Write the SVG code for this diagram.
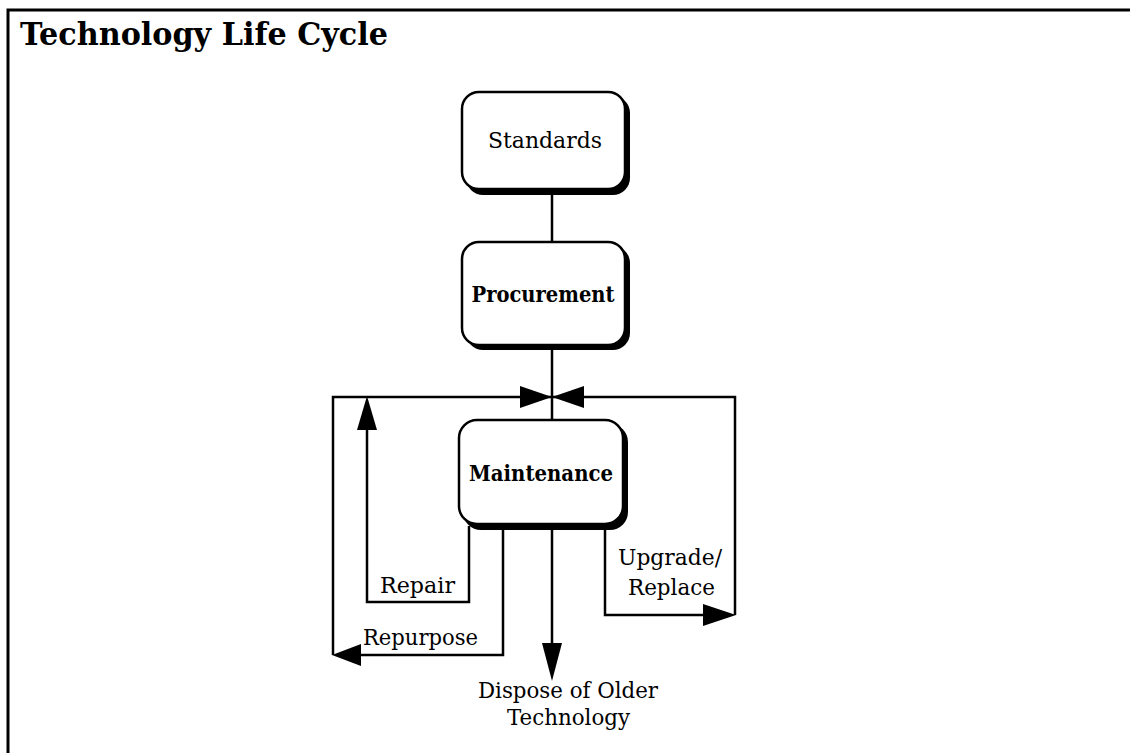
<svg xmlns="http://www.w3.org/2000/svg" width="1130" height="753" viewBox="0 0 1130 753">
<style>
.frame{stroke:#000;stroke-width:3;fill:none}
.box{fill:#fff;stroke:#000;stroke-width:2.5}
.shadow{fill:#000}
.line{stroke:#000;stroke-width:2.5;fill:none}
.head{fill:#000}
.title{font-family:"DejaVu Serif","Liberation Serif",serif;font-weight:bold;font-size:31px;fill:#000}
.lbl{font-family:"DejaVu Serif","Liberation Serif",serif;font-size:23px;fill:#000}
.bold{font-weight:bold}
</style>
<rect width="1130" height="753" fill="#fff"/>
<path class="frame" d="M8,753 V10 H1130"/>
<text class="title" x="20" y="45" textLength="368" lengthAdjust="spacingAndGlyphs">Technology Life Cycle</text>

<g id="connectors">
  <line class="line" x1="552" y1="193" x2="552" y2="242"/>
  <line class="line" x1="552" y1="347" x2="552" y2="420"/>
  <!-- loop frame -->
  <path class="line" d="M333,655 V397 H735 V615"/>
  <!-- Repair -->
  <path class="line" d="M469,526 V602 H367 V420"/>
  <polygon class="head" points="367,396 357,430 377,430"/>
  <!-- Repurpose -->
  <path class="line" d="M503,526 V655 H355"/>
  <polygon class="head" points="332,655 361,644 361,666"/>
  <!-- Dispose -->
  <line class="line" x1="552" y1="526" x2="552" y2="650"/>
  <polygon class="head" points="552,681 542,643 562,643"/>
  <!-- Upgrade/Replace -->
  <path class="line" d="M605,526 V615 H710"/>
  <polygon class="head" points="736,615 703,604 703,626"/>
  <!-- merge arrows -->
  <polygon class="head" points="552,397 520,386 520,408"/>
  <polygon class="head" points="552,397 584,386 584,408"/>
</g>

<g id="standards">
  <rect class="shadow" x="466" y="96" width="164" height="99" rx="17"/>
  <rect class="box" x="462" y="92" width="163" height="97" rx="17"/>
  <text class="lbl" x="545" y="148" text-anchor="middle" textLength="114" lengthAdjust="spacingAndGlyphs">Standards</text>
</g>

<g id="procurement">
  <rect class="shadow" x="466" y="246" width="164" height="104" rx="17"/>
  <rect class="box" x="462" y="242" width="163" height="103" rx="17"/>
  <text class="lbl bold" x="543" y="302" text-anchor="middle" textLength="143" lengthAdjust="spacingAndGlyphs">Procurement</text>
</g>

<g id="maintenance">
  <rect class="shadow" x="463" y="424" width="165" height="106" rx="18"/>
  <rect class="box" x="459" y="420" width="164" height="104" rx="18"/>
  <text class="lbl bold" x="541" y="481" text-anchor="middle" textLength="144" lengthAdjust="spacingAndGlyphs">Maintenance</text>
</g>

<g id="labels">
  <text class="lbl" x="380" y="593" textLength="75" lengthAdjust="spacingAndGlyphs">Repair</text>
  <text class="lbl" x="363" y="645" textLength="115" lengthAdjust="spacingAndGlyphs">Repurpose</text>
  <text class="lbl" x="618" y="565" textLength="104" lengthAdjust="spacingAndGlyphs">Upgrade/</text>
  <text class="lbl" x="628" y="595" textLength="87" lengthAdjust="spacingAndGlyphs">Replace</text>
  <text class="lbl" x="478" y="698" textLength="180" lengthAdjust="spacingAndGlyphs">Dispose of Older</text>
  <text class="lbl" x="507" y="725" textLength="123" lengthAdjust="spacingAndGlyphs">Technology</text>
</g>
</svg>
